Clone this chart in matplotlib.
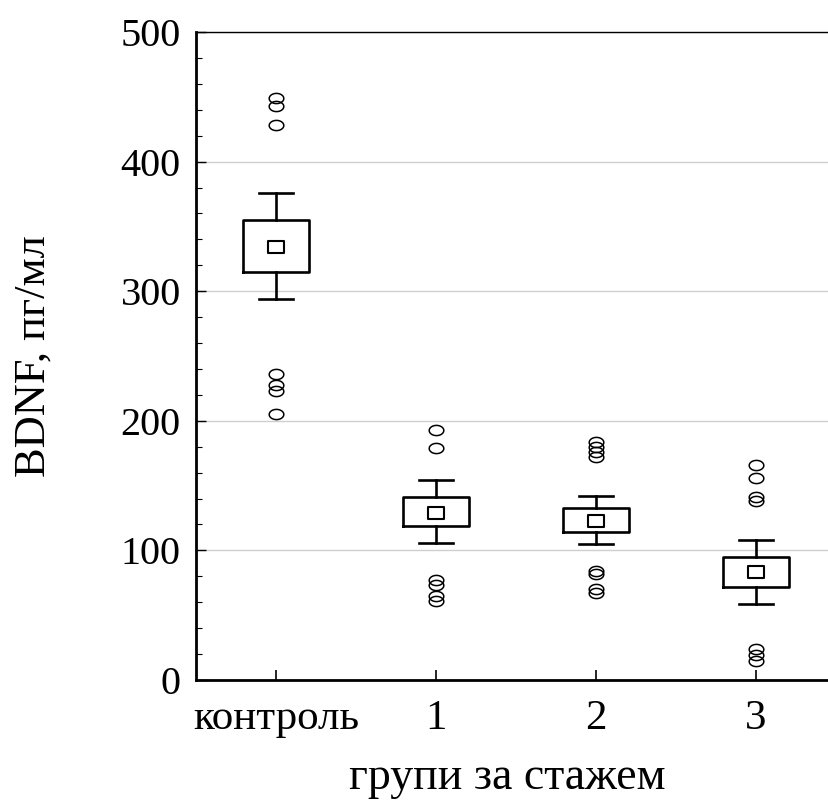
import numpy as np
import matplotlib.pyplot as plt
from matplotlib.path import Path

# BDNF by work-experience group: mean, box = mean +/- SE, whiskers, outliers
groups = ['контроль', '1', '2', '3']
means = [334, 129, 123, 83]
box_hi = [355, 141, 133, 95]
box_lo = [315, 119, 114, 72]
whisk_hi = [376, 154, 142, 108]
whisk_lo = [294, 106, 105, 59]
outliers_ctrl = [449, 443, 428, 236, 228, 223, 205]
outliers_g1 = [193, 179, 77, 73, 65, 61]
outliers_g2 = [184, 180, 176, 172, 84, 82, 70, 67]
outliers_g3 = [166, 156, 141, 138, 24, 19, 15]
outliers = [outliers_ctrl, outliers_g1, outliers_g2, outliers_g3]

plt.rcParams['font.family'] = ['Liberation Serif', 'DejaVu Serif']

# flattened markers: open ellipse for outliers, wide rectangle for the mean
t = np.linspace(0, 2 * np.pi, 60)
ellipse = Path(np.column_stack([np.cos(t), 0.7 * np.sin(t)]), closed=True)
rect = Path([(-1, -0.7), (1, -0.7), (1, 0.7), (-1, 0.7), (-1, -0.7)], closed=True)

stats = []
for i in range(len(groups)):
    stats.append({
        'label': groups[i],
        'mean': means[i],
        'med': means[i],
        'q1': box_lo[i],
        'q3': box_hi[i],
        'whislo': whisk_lo[i],
        'whishi': whisk_hi[i],
        'fliers': outliers[i],
    })

fig = plt.figure(figsize=(8.29, 8.01), dpi=100)
ax = fig.add_axes([196 / 829, 121 / 801, 640 / 829, 648 / 801])

ax.bxp(stats, positions=range(len(groups)), widths=0.41, capwidths=0.21,
       showmeans=True,
       boxprops=dict(color='black', linewidth=1.9),
       whiskerprops=dict(color='black', linewidth=1.9),
       capprops=dict(color='black', linewidth=1.9),
       medianprops=dict(linewidth=0),
       meanprops=dict(marker=rect, markersize=12, markerfacecolor='white',
                      markeredgecolor='black', markeredgewidth=1.5),
       flierprops=dict(marker=ellipse, markersize=10.5, markerfacecolor='none',
                       markeredgecolor='black', markeredgewidth=1.1))

ax.set_xlim(-0.5, 3.5)
ax.set_ylim(0, 500)
ax.set_yticks([0, 100, 200, 300, 400, 500])
ax.set_yticks(np.arange(0, 501, 20), minor=True)
ax.yaxis.grid(True, color='#cfcfcf', linewidth=1.0)
ax.set_axisbelow(True)

ax.tick_params(axis='y', which='major', direction='in', length=7, width=1,
               labelsize=29, pad=11)
ax.tick_params(axis='y', which='minor', direction='in', length=4, width=0.8)
ax.tick_params(axis='x', direction='in', length=7, width=1.2,
               labelsize=31, pad=14)

for side in ['left', 'bottom']:
    ax.spines[side].set_linewidth(2)
ax.spines['top'].set_linewidth(1)
ax.spines['right'].set_linewidth(1)

ax.set_ylabel('BDNF, пг/мл', fontsize=32)
ax.yaxis.set_label_coords(-0.222, 0.5)
ax.set_xlabel('групи за стажем', fontsize=33)
ax.xaxis.set_label_coords(0.487, -0.118)

fig.savefig('out.png', dpi=100)
